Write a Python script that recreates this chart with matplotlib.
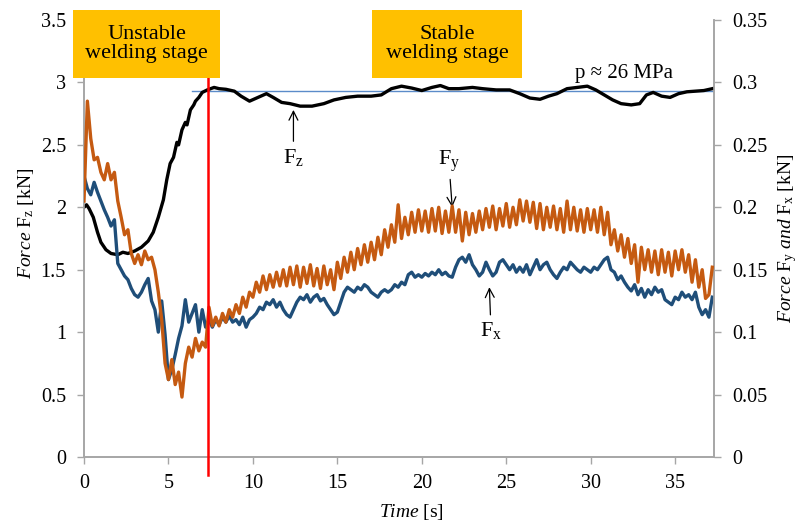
import numpy as np
import matplotlib
matplotlib.use("Agg")
import matplotlib.pyplot as plt
from matplotlib.patches import Rectangle
from matplotlib.ticker import FuncFormatter, MultipleLocator

plt.rcParams.update({
    "font.family": "Liberation Serif",
    "mathtext.fontset": "custom",
    "mathtext.rm": "Liberation Serif",
    "mathtext.it": "Liberation Serif:italic",
    "font.size": 14,
})

# --- data -------------------------------------------------------------
# Fz (left axis, kN): sample time [s] and value
fz_time = [0.0, 0.15, 0.3, 0.55, 0.8, 1.0, 1.3, 1.6, 2.0, 2.3, 2.6, 3.0, 3.4, 3.8,
           4.1, 4.4, 4.7, 4.9, 5.1, 5.3, 5.5, 5.6, 5.8, 6.0, 6.1, 6.3, 6.5, 6.6,
           6.8, 7.0, 7.3, 7.7, 8.0, 8.4, 8.9, 9.3, 9.8, 10.3, 10.8, 11.2, 11.7,
           12.2, 12.8, 13.5, 14.2, 14.8, 15.5, 16.2, 17.0, 17.6, 18.2, 18.8, 19.4,
           20.0, 20.6, 21.1, 21.6, 22.2, 23.0, 23.6, 24.4, 25.2, 25.8, 26.4, 27.0,
           27.5, 28.0, 28.6, 29.2, 29.8, 30.3, 30.8, 31.3, 31.8, 32.4, 32.9, 33.3,
           33.7, 34.2, 34.7, 35.2, 35.7, 36.2, 36.7, 37.2]
fz = [2.00, 2.02, 1.99, 1.92, 1.80, 1.72, 1.66, 1.63, 1.62, 1.64, 1.63, 1.65, 1.68, 1.73,
      1.80, 1.92, 2.06, 2.22, 2.35, 2.40, 2.52, 2.50, 2.62, 2.68, 2.66, 2.78, 2.82, 2.85,
      2.88, 2.92, 2.94, 2.96, 2.95, 2.945, 2.93, 2.89, 2.85, 2.88, 2.91, 2.88, 2.84,
      2.83, 2.81, 2.81, 2.83, 2.86, 2.88, 2.89, 2.89, 2.90, 2.95, 2.97, 2.955,
      2.935, 2.96, 2.975, 2.95, 2.95, 2.96, 2.95, 2.94, 2.94, 2.91, 2.875, 2.865,
      2.89, 2.91, 2.95, 2.96, 2.97, 2.94, 2.90, 2.86, 2.83, 2.82, 2.83, 2.90,
      2.92, 2.89, 2.88, 2.91, 2.925, 2.93, 2.935, 2.95]

# Fy and Fx (right axis, kN), sampled every 0.2 s from t = 0
sample_step = 0.2
fy = [0.205, 0.285, 0.255, 0.238, 0.240, 0.228, 0.222, 0.235, 0.222, 0.228,
      0.205, 0.192, 0.178, 0.182, 0.163, 0.155, 0.162, 0.154, 0.165, 0.158,
      0.160, 0.150, 0.132, 0.110, 0.075, 0.062, 0.078, 0.058, 0.068, 0.048,
      0.075, 0.088, 0.080, 0.095, 0.085, 0.092, 0.088, 0.120, 0.105, 0.112,
      0.105, 0.115, 0.108, 0.118, 0.112, 0.122, 0.115, 0.128, 0.120, 0.132,
      0.128, 0.140, 0.132, 0.145, 0.134, 0.146, 0.136, 0.148, 0.137, 0.150,
      0.137, 0.152, 0.138, 0.153, 0.136, 0.152, 0.139, 0.154, 0.137, 0.151,
      0.135, 0.153, 0.138, 0.150, 0.134, 0.156, 0.143, 0.160, 0.148, 0.164,
      0.150, 0.167, 0.154, 0.170, 0.156, 0.172, 0.158, 0.176, 0.162, 0.182,
      0.168, 0.186, 0.172, 0.202, 0.175, 0.192, 0.178, 0.196, 0.180, 0.198,
      0.181, 0.197, 0.180, 0.199, 0.181, 0.200, 0.179, 0.197, 0.180, 0.201,
      0.180, 0.198, 0.173, 0.196, 0.178, 0.195, 0.180, 0.197, 0.182, 0.199,
      0.184, 0.201, 0.182, 0.199, 0.185, 0.203, 0.184, 0.200, 0.186, 0.206,
      0.189, 0.205, 0.188, 0.204, 0.183, 0.203, 0.182, 0.200, 0.184, 0.201,
      0.182, 0.199, 0.180, 0.205, 0.182, 0.200, 0.181, 0.198, 0.180, 0.199,
      0.182, 0.198, 0.180, 0.200, 0.178, 0.196, 0.170, 0.182, 0.165, 0.178,
      0.160, 0.175, 0.155, 0.170, 0.140, 0.168, 0.150, 0.166, 0.148, 0.165,
      0.146, 0.166, 0.148, 0.164, 0.145, 0.165, 0.150, 0.166, 0.148, 0.162,
      0.140, 0.158, 0.136, 0.150, 0.127, 0.130, 0.152]
fx = [0.225, 0.215, 0.210, 0.220, 0.212, 0.205, 0.198, 0.192, 0.185, 0.190,
      0.155, 0.150, 0.145, 0.142, 0.135, 0.130, 0.128, 0.132, 0.138, 0.143,
      0.125, 0.118, 0.100, 0.125, 0.098, 0.062, 0.070, 0.082, 0.095, 0.105,
      0.126, 0.108, 0.115, 0.122, 0.100, 0.118, 0.104, 0.110, 0.104, 0.110,
      0.106, 0.112, 0.108, 0.113, 0.108, 0.110, 0.106, 0.112, 0.104, 0.110,
      0.112, 0.115, 0.120, 0.118, 0.124, 0.122, 0.126, 0.120, 0.124, 0.118,
      0.114, 0.112, 0.118, 0.124, 0.128, 0.126, 0.130, 0.124, 0.128, 0.130,
      0.125, 0.127, 0.122, 0.118, 0.114, 0.116, 0.124, 0.132, 0.136, 0.134,
      0.132, 0.136, 0.134, 0.138, 0.136, 0.132, 0.130, 0.128, 0.132, 0.134,
      0.132, 0.134, 0.138, 0.136, 0.140, 0.138, 0.146, 0.148, 0.144, 0.146,
      0.144, 0.147, 0.145, 0.148, 0.146, 0.150, 0.146, 0.148, 0.145, 0.144,
      0.152, 0.158, 0.160, 0.156, 0.162, 0.154, 0.150, 0.145, 0.148, 0.156,
      0.150, 0.145, 0.148, 0.156, 0.158, 0.154, 0.150, 0.154, 0.148, 0.152,
      0.148, 0.154, 0.146, 0.152, 0.158, 0.150, 0.154, 0.156, 0.150, 0.146,
      0.143, 0.148, 0.152, 0.150, 0.156, 0.153, 0.150, 0.148, 0.152, 0.150,
      0.148, 0.152, 0.150, 0.154, 0.158, 0.160, 0.150, 0.148, 0.142, 0.145,
      0.140, 0.136, 0.133, 0.138, 0.130, 0.135, 0.128, 0.134, 0.130, 0.136,
      0.132, 0.134, 0.126, 0.124, 0.122, 0.128, 0.126, 0.132, 0.128, 0.130,
      0.126, 0.132, 0.120, 0.114, 0.118, 0.112, 0.128]

stage_change = 7.35      # s, red marker
mean_fz = 2.934          # kN, reference level for p ~ 26 MPa
mean_start = 6.37

x_max = 37.3
left_lim = 3.5
right_lim = 0.35

# --- figure -----------------------------------------------------------
fig = plt.figure(figsize=(8.02, 5.27), dpi=100)
ax = fig.add_axes([84/802, 1 - 457/527, 630/802, 437/527])
ax2 = ax.twinx()

t_xy = np.arange(len(fy)) * sample_step

grey = "#A6A6A6"
ax.plot([mean_start, x_max], [mean_fz, mean_fz], color="#5B8BC9", lw=1.0, zorder=2)
ax.plot(fz_time, fz, color="black", lw=2.4, zorder=3)
ax2.plot(t_xy, fy, color="#C55A11", lw=2.4, zorder=3)
ax2.plot(t_xy[:len(fx)], fx, color="#1F4E79", lw=2.4, zorder=2)
ax2.axvline(stage_change, ymin=-0.042, ymax=1, color="red", lw=1.8,
            clip_on=False, zorder=5)

ax.set_xlim(0, x_max)
ax.set_ylim(0, left_lim)
ax2.set_ylim(0, right_lim)
ax.xaxis.set_major_locator(MultipleLocator(5))
ax.yaxis.set_major_locator(MultipleLocator(0.5))
ax2.yaxis.set_major_locator(MultipleLocator(0.05))
fmt = FuncFormatter(lambda v, p: f"{v:g}")
ax.xaxis.set_major_formatter(fmt)
ax.yaxis.set_major_formatter(fmt)
ax2.yaxis.set_major_formatter(fmt)

for a in (ax, ax2):
    a.spines["top"].set_visible(False)
    for side in ("left", "right", "bottom"):
        a.spines[side].set_color(grey)
        a.spines[side].set_linewidth(1.2)
    a.tick_params(colors=grey, labelcolor="black", labelsize=14.5,
                  length=5, width=1.0, direction="out")
ax.tick_params(axis="y", pad=8)
ax2.tick_params(axis="y", pad=8)
ax.tick_params(axis="x", pad=7)

ax.set_xlabel(r"$\mathit{Time}$ [s]", fontsize=14, va="center")
ax.xaxis.set_label_coords(0.52, -0.126)
ax.set_ylabel(r"$\mathit{Force}$ F$_\mathrm{z}$ [kN]", fontsize=14,
              va="center", ha="center")
ax.yaxis.set_label_coords(-0.092, 0.535)
ax2.set_ylabel(r"$\mathit{Force}$ F$_\mathrm{y}$ $\mathit{and}$ F$_\mathrm{x}$ [kN]",
               fontsize=14, va="center", ha="center")
ax2.yaxis.set_label_coords(1.116, 0.5)

arrow = dict(arrowstyle="->", color="black", lw=0.9, shrinkA=2, shrinkB=0)
ax.annotate(r"F$_\mathrm{z}$", xy=(12.4, 2.78), xytext=(12.4, 2.40),
            ha="center", va="center", fontsize=16, arrowprops=arrow, zorder=6)
ax.annotate(r"F$_\mathrm{y}$", xy=(21.8, 2.0), xytext=(21.6, 2.37),
            ha="center", va="center", fontsize=16, arrowprops=arrow, zorder=6)
ax.annotate(r"F$_\mathrm{x}$", xy=(24.0, 1.36), xytext=(24.1, 1.01),
            ha="center", va="center", fontsize=16, arrowprops=arrow, zorder=6)
ax.text(32.0, 3.07, "p ≈ 26 MPa", ha="center", va="center", fontsize=15)

# stage boxes
boxes = [("Unstable\nwelding stage", 73, 220), ("Stable\nwelding stage", 372, 522)]
for label, x0, x1 in boxes:
    fig.add_artist(Rectangle((x0/802, 1 - 78/527), (x1 - x0)/802, 68/527,
                             transform=fig.transFigure, facecolor="#FFC000",
                             edgecolor="none", zorder=10))
    fig.text((x0 + x1)/2/802, 1 - 44/527, label, ha="center", va="center",
             fontsize=16, linespacing=1.05, zorder=11)

fig.savefig("out.png", dpi=100)
